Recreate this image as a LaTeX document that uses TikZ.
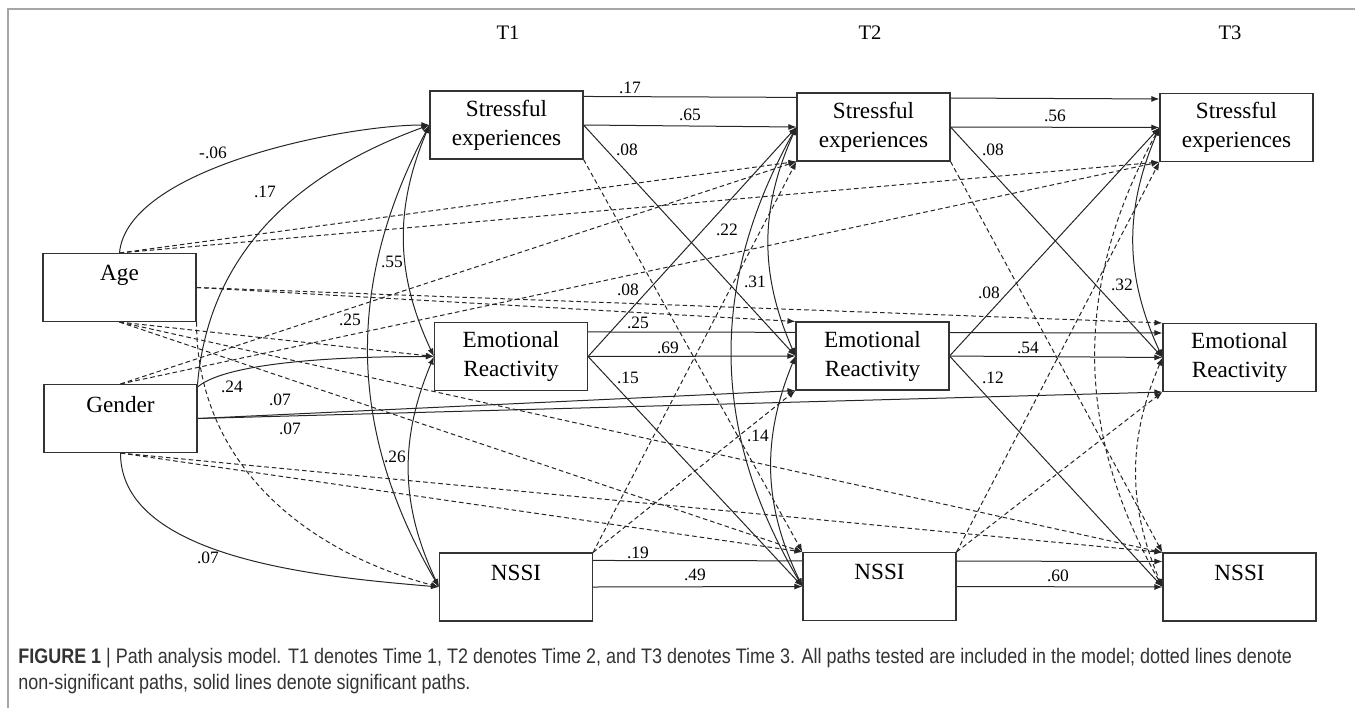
\documentclass[tikz,border=0pt]{standalone}
\usepackage{fontspec}
\setmainfont{Liberation Serif}
\newfontfamily\capfont[FakeStretch=0.855]{Liberation Sans}
\usetikzlibrary{arrows.meta}
\pgfdeclarelayer{paths}
\pgfsetlayers{paths,main}

\begin{document}
\begin{tikzpicture}[x=0.5pt, y=0.5pt,
    var/.style={draw=black!80, fill=white, line width=0.55pt, minimum width=76.5pt,
        minimum height=34pt, inner sep=0pt, align=center, font=\fontsize{11.6}{14.5}\selectfont},
    sig/.style={-{Latex[length=4pt,width=3pt]}, line width=0.5pt, draw=black!85},
    ns/.style={sig, dash pattern=on 2.3pt off 1.5pt},
    cov/.style={{Latex[length=4pt,width=3pt]}-{Latex[length=4pt,width=3pt]}, line width=0.5pt, draw=black!85},
    covns/.style={cov, dash pattern=on 2.3pt off 1.5pt},
    coef/.style={font=\fontsize{8.7}{10}\selectfont, inner sep=0.5pt},
    wave/.style={font=\fontsize{10.3}{12}\selectfont},
    caption/.style={anchor=west, inner sep=0pt, text=black!80, font=\capfont\fontsize{10.5}{12}\selectfont}]
    \useasboundingbox (0,0) rectangle (1355,-708);
    \draw[gray!70, line width=0.8pt] (8,-708) -- (8,-9) -- (1355,-9);

    % time points
    \node[wave] (t1) at (508,-33) {T1};
    \node[wave] (t2) at (870,-33) {T2};
    \node[wave] (t3) at (1230,-33) {T3};

    % covariates
    \node[var] (age) at (119.5,-287.5) {Age\\\mbox{}};
    \node[var] (gender) at (120.5,-418.5) {Gender\\\mbox{}};

    % variables at each wave
    \node[var] (s1) at (506.5,-125) {Stressful\\experiences};
    \node[var] (e1) at (511,-356.5) {Emotional\\Reactivity};
    \node[var] (n1) at (516,-587) {NSSI\\\mbox{}};
    \node[var] (s2) at (873.5,-127) {Stressful\\experiences};
    \node[var] (e2) at (872.5,-356) {Emotional\\Reactivity};
    \node[var] (n2) at (879.5,-586.5) {NSSI\\\mbox{}};
    \node[var] (s3) at (1236.5,-127.5) {Stressful\\experiences};
    \node[var] (e3) at (1239.5,-357.5) {Emotional\\Reactivity};
    \node[var] (n3) at (1239.5,-587) {NSSI\\\mbox{}};

    \begin{pgfonlayer}{paths}
    % T1 -> T3, hidden behind the T2 boxes
    \draw[sig] ([yshift=-3pt]s1.north east) -- ([yshift=-3pt]s3.north west);
    \draw[sig] ([yshift=-5pt]e1.north east) -- ([yshift=-5pt]e3.north west);
    \draw[sig] ([yshift=-4pt]n1.north east) -- ([yshift=-4.5pt]n3.north west);

    % stability paths
    \draw[sig] (s1.east) -- (s2.west);
    \draw[sig] (s2.east) -- (s3.west);
    \draw[sig] (e1.east) -- (e2.west);
    \draw[sig] (e2.east) -- (e3.west);
    \draw[sig] (n1.east) -- (n2.west);
    \draw[sig] (n2.east) -- (n3.west);

    % cross-lagged paths T1 -> T2
    \draw[sig] (s1.east) -- (e2.west);
    \draw[ns] (s1.south east) -- (n2.north west);
    \draw[sig] (e1.east) -- (s2.west);
    \draw[sig] (e1.east) -- (n2.west);
    \draw[ns] (n1.north east) -- (s2.south west);
    \draw[ns] (n1.north east) -- (e2.south west);

    % cross-lagged paths T2 -> T3
    \draw[sig] (s2.east) -- (e3.west);
    \draw[ns] (s2.south east) -- (n3.north west);
    \draw[sig] (e2.east) -- (s3.west);
    \draw[sig] (e2.east) -- (n3.west);
    \draw[ns] (n2.north east) -- (s3.south west);
    \draw[ns] (n2.north east) -- (e3.south west);

    % age
    \draw[sig] (age.north) to[out=85, in=180, looseness=0.65] (s1.west);
    \draw[ns] (age.north) -- (s2.south west);
    \draw[ns] (age.north) -- (s3.south west);
    \draw[ns] (age.south) -- (e1.west);
    \draw[ns] (age.east) -- (e2.north west);
    \draw[ns] (age.east) -- (e3.north west);
    \draw[ns] (age.south east) to[out=-90, in=165] (n1.west);
    \draw[ns] (age.south) -- (n2.north west);
    \draw[ns] (age.south) -- (n3.north west);

    % gender
    \draw[sig] (gender.north east) to[out=85, in=200] (s1.west);
    \draw[ns] (gender.north) -- (s2.south west);
    \draw[ns] (gender.north) -- (s3.south west);
    \draw[sig] ([yshift=-1.5pt]gender.north east) to[out=40, in=180, looseness=0.5] (e1.west);
    \draw[sig] (gender.east) -- (e2.south west);
    \draw[sig] (gender.east) -- (e3.south west);
    \draw[sig] (gender.south) to[out=-90, in=175, looseness=0.8] (n1.west);
    \draw[ns] (gender.south) -- (n2.north west);
    \draw[ns] (gender.south) -- (n3.north west);

    % correlations within each wave
    \draw[cov] (s1.west) to[bend right=24] (e1.west);
    \draw[cov] (s1.west) to[bend right=29] (n1.west);
    \draw[cov] (e1.west) to[bend right=24] (n1.west);
    \draw[cov] (s2.west) to[bend right=24] (e2.west);
    \draw[cov] (s2.west) to[bend right=30] (n2.west);
    \draw[cov] (e2.west) to[bend right=24] (n2.west);
    \draw[cov] (s3.west) to[bend right=24] (e3.west);
    \draw[covns] (s3.west) to[bend right=29] (n3.west);
    \draw[covns] (e3.west) to[bend right=23] (n3.west);
    \end{pgfonlayer}

    % coefficients
    \node[coef] (c1) at (213,-153) {-.06};
    \node[coef] (c2) at (265,-192) {.17};
    \node[coef] (c3) at (392,-262) {.55};
    \node[coef] (c4) at (350,-320) {.25};
    \node[coef] (c5) at (232,-387) {.24};
    \node[coef] (c6) at (280,-400) {.07};
    \node[coef] (c7) at (290,-429) {.07};
    \node[coef] (c8) at (395,-457) {.26};
    \node[coef] (c9) at (208,-558) {.07};
    \node[coef] (c10) at (630,-88) {.17};
    \node[coef] (c11) at (690,-115) {.65};
    \node[coef] (c12) at (627,-150) {.08};
    \node[coef] (c13) at (727,-230) {.22};
    \node[coef] (c14) at (755,-282) {.31};
    \node[coef] (c15) at (628,-290) {.08};
    \node[coef] (c16) at (638,-323) {.25};
    \node[coef] (c17) at (668,-348) {.69};
    \node[coef] (c18) at (628,-378) {.15};
    \node[coef] (c19) at (758,-436) {.14};
    \node[coef] (c20) at (638,-553) {.19};
    \node[coef] (c21) at (695,-575) {.49};
    \node[coef] (c22) at (1055,-116) {.56};
    \node[coef] (c23) at (993,-150) {.08};
    \node[coef] (c24) at (989,-293) {.08};
    \node[coef] (c25) at (1122,-285) {.32};
    \node[coef] (c26) at (1028,-348) {.54};
    \node[coef] (c27) at (993,-378) {.12};
    \node[coef] (c28) at (1058,-576) {.60};

    % caption
    \node[caption] (cap1) at (18,-658) {\textbf{FIGURE 1} | Path analysis model. T1 denotes Time 1, T2 denotes Time 2, and T3 denotes Time 3. All paths tested are included in the model; dotted lines denote};
    \node[caption] (cap2) at (18,-684) {non-significant paths, solid lines denote significant paths.};
\end{tikzpicture}
\end{document}
